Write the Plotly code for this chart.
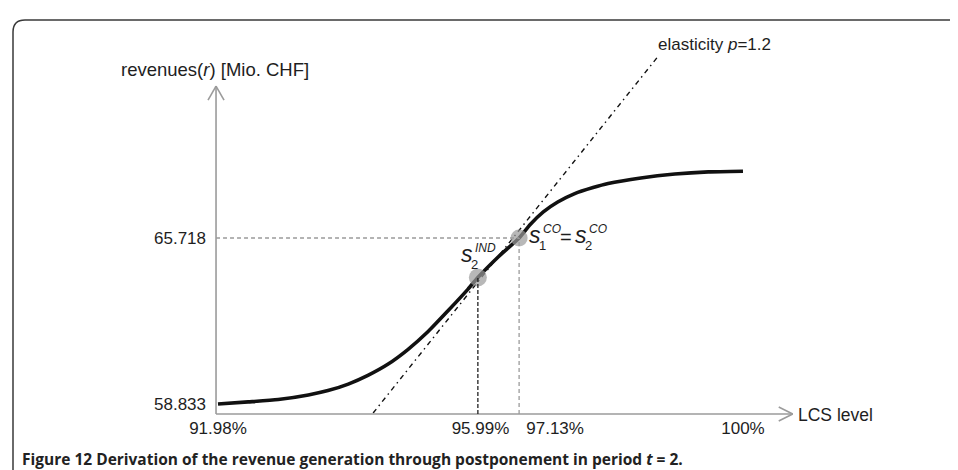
import plotly.graph_objects as go

W, H = 958, 470

# ---------------- data ----------------
lcs_level = [91.98, 92.44, 92.90, 93.36, 93.66, 93.97, 94.27, 94.58, 94.88, 95.19,
             95.49, 95.80, 95.95, 96.26, 96.58, 96.75, 96.95, 97.17, 97.43, 97.71,
             97.94, 98.44, 98.96, 99.47, 100.0]
revenues = [58.833, 58.92, 59.02, 59.21, 59.39, 59.66, 60.02, 60.49, 61.09, 61.84,
            62.69, 63.60, 64.08, 64.93, 65.718, 66.28, 66.80, 67.21, 67.56, 67.81,
            67.98, 68.21, 68.37, 68.46, 68.49]

elasticity_lcs = [94.35, 98.72]
elasticity_rev = [58.46, 73.31]

s_ind_lcs, s_ind_rev = 95.95, 64.08      # s2^IND
s_co_lcs, s_co_rev = 96.58, 65.718       # s1^CO = s2^CO

x_tick_vals = [91.98, 95.99, 97.13, 100]
x_tick_text = ["91.98%", "95.99%", "97.13%", "100%"]
y_tick_vals = [58.833, 65.718]
y_tick_text = ["58.833", "65.718"]

x_axis_start, x_axis_end = 91.95, 100.76
y_axis_start, y_axis_end = 58.42, 72.02

x_range = [88.772, 103.407]
y_range = [55.764, 75.258]

# ---------------- helpers ----------------
def px(x):
    return x / W


def py(y):
    return 1 - y / H


AX = "#9b9b9b"
INK = "#1e1e1e"
FONT = "Liberation Sans, Arial, sans-serif"

fig = go.Figure()

# revenue curve
fig.add_trace(go.Scatter(x=lcs_level, y=revenues, mode="lines",
                         line=dict(color="#111111", width=3.6, shape="spline", smoothing=0.6),
                         hoverinfo="skip"))
# elasticity line
fig.add_trace(go.Scatter(x=elasticity_lcs, y=elasticity_rev, mode="lines",
                         line=dict(color="#111111", width=1.4, dash="5px,4px,1.5px,4px"),
                         hoverinfo="skip"))

shapes = []
# axes
shapes.append(dict(type="line", xref="x", yref="y", x0=x_axis_start, x1=x_axis_end,
                   y0=y_axis_start, y1=y_axis_start, line=dict(color=AX, width=1.6)))
shapes.append(dict(type="line", xref="x", yref="y", x0=x_axis_start, x1=x_axis_start,
                   y0=y_axis_start, y1=y_axis_end, line=dict(color=AX, width=1.6)))
# arrowheads (pixel sized)
for dy in (7, -7):
    shapes.append(dict(type="line", xref="x", yref="y", xsizemode="pixel", ysizemode="pixel",
                       xanchor=x_axis_end, yanchor=y_axis_start,
                       x0=-14, x1=0, y0=dy, y1=0, line=dict(color=AX, width=1.6)))
for dx in (8, -8):
    shapes.append(dict(type="line", xref="x", yref="y", xsizemode="pixel", ysizemode="pixel",
                       xanchor=x_axis_start, yanchor=y_axis_end,
                       x0=dx, x1=0, y0=-14, y1=0, line=dict(color=AX, width=1.6)))
# guide lines
shapes.append(dict(type="line", xref="x", yref="y", x0=x_axis_start, x1=s_co_lcs,
                   y0=s_co_rev, y1=s_co_rev, line=dict(color=AX, width=1.3, dash="4px,3px")))
shapes.append(dict(type="line", xref="x", yref="y", x0=s_co_lcs, x1=s_co_lcs,
                   y0=y_axis_start, y1=s_co_rev, line=dict(color=AX, width=1.3, dash="4px,3px")))
shapes.append(dict(type="line", xref="x", yref="y", x0=s_ind_lcs, x1=s_ind_lcs,
                   y0=y_axis_start, y1=s_ind_rev, line=dict(color="#222222", width=1.3, dash="4px,2px")))
# rounded frame
x0, y0, r = px(5), py(12), 12
frame = (f"M {x0},-0.1 L {x0},{y0 - r / H} Q {x0},{y0} {x0 + r / W},{y0} L 1.1,{y0}")
shapes.append(dict(type="path", xref="paper", yref="paper", path=frame,
                   line=dict(color="#3a3a3a", width=1.5), layer="above"))

# points
fig.add_trace(go.Scatter(x=[s_ind_lcs, s_co_lcs], y=[s_ind_rev, s_co_rev], mode="markers",
                         marker=dict(color="#9a9a9a", size=[18, 17], line=dict(width=0)),
                         hoverinfo="skip", cliponaxis=False))

ann = []


def text(x, y, t, size=17, xanchor="center", yanchor="middle", color=INK, family=FONT):
    ann.append(dict(xref="paper", yref="paper", x=px(x), y=py(y), text=t, showarrow=False,
                    xanchor=xanchor, yanchor=yanchor,
                    font=dict(size=size, color=color, family=family)))


text(207, 62, "revenues(<i>r</i>) [Mio. CHF]", size=18.5)
text(648, 37, "elasticity <i>p</i>=1.2", xanchor="left")
text(788, 407, "LCS level", xanchor="left", size=17.5)

# s2^IND label
text(459, 246, "<i>s</i>", size=23)
text(466, 256, "2", size=13)
text(465, 240, "<i>IND</i>", size=12, xanchor="left")
# s1^CO = s2^CO label
text(527, 227, "<i>s</i>", size=23)
text(534, 237, "1", size=13)
text(533, 221, "<i>CO</i>", size=12, xanchor="left")
text(558, 229, "=", size=20)
text(573, 227, "<i>s</i>", size=23)
text(580, 237, "2", size=13)
text(579, 221, "<i>CO</i>", size=12, xanchor="left")

# caption
text(12, 451, "<b>Figure 12 Derivation of the revenue generation through postponement in period "
              "<i>t</i> = 2.</b>", size=15.5, xanchor="left", color="#222222",
     family="Open Sans, Liberation Sans, sans-serif")

fig.update_layout(
    width=W, height=H, margin=dict(l=0, r=0, t=0, b=0),
    paper_bgcolor="white", plot_bgcolor="white", showlegend=False,
    shapes=shapes, annotations=ann, hovermode=False,
    xaxis=dict(domain=[0, 1], range=x_range, anchor="free", position=py(406),
               showline=False, showgrid=False, zeroline=False, ticks="",
               tickvals=x_tick_vals, ticktext=x_tick_text, ticklabelstandoff=2,
               tickfont=dict(size=17, color=INK, family=FONT)),
    yaxis=dict(domain=[0, 1], range=y_range, anchor="free", position=px(208),
               showline=False, showgrid=False, zeroline=False, ticks="",
               tickvals=y_tick_vals, ticktext=y_tick_text, ticklabelstandoff=10,
               tickfont=dict(size=17, color=INK, family=FONT)),
)

fig.write_html("out.html")
